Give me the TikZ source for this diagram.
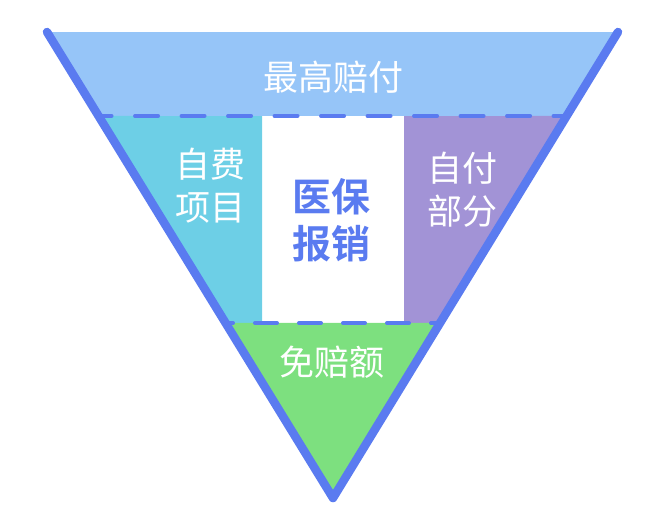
\documentclass[tikz,border=0pt]{standalone}
\usepackage{fontspec}
\newfontfamily\cjk[BoldFont={Noto Sans CJK SC Bold}]{Noto Sans CJK SC}
\usetikzlibrary{calc}
\definecolor{edgeblue}{HTML}{5A7BF0}
\definecolor{topblue}{HTML}{96C5F8}
\definecolor{cyanfill}{HTML}{6DCFE6}
\definecolor{purplefill}{HTML}{A293D6}
\definecolor{greenfill}{HTML}{7DE07F}
\tikzset{
  lbl/.style={text=white, align=center, inner sep=0pt, font=\cjk\fontsize{35}{43}\selectfont},
  mainlbl/.style={text=edgeblue, align=center, inner sep=0pt, font=\cjk\bfseries\fontsize{39}{47}\selectfont},
  sep/.style={draw=edgeblue, line width=4pt, line cap=round},
  side/.style={draw=edgeblue, line width=8.5pt, line cap=round, line join=round}
}
\begin{document}
\begin{tikzpicture}[x=1pt,y=-1pt]
\useasboundingbox (0,0) rectangle (666,522);
\coordinate (L) at (47,32);
\coordinate (R) at (618,32);
\coordinate (B) at (333,498);
\coordinate (L1) at ($(L)!{84/466}!(B)$);
\coordinate (R1) at ($(R)!{84/466}!(B)$);
\coordinate (L2) at ($(L)!{291/466}!(B)$);
\coordinate (R2) at ($(R)!{291/466}!(B)$);
\coordinate (C1) at (262,116);
\coordinate (C2) at (262,323);
\coordinate (D1) at (404,116);
\coordinate (D2) at (404,323);
% fills
\fill[topblue] (L) -- (R) -- (R1) -- (L1) -- cycle;
\fill[cyanfill] (L1) -- (C1) -- (C2) -- (L2) -- cycle;
\fill[purplefill] (D1) -- (R1) -- (R2) -- (D2) -- cycle;
\fill[greenfill] (L2) -- (R2) -- (B) -- cycle;
% dashed separators
\draw[sep, dash pattern=on 23pt off 23.5pt, dash phase=10pt] (L1) -- (R1);
\draw[sep, dash pattern=on 22pt off 22pt, dash phase=14.6pt] (L2) -- (R2);
% sides
\draw[side] (L) -- (B) -- (R);
% labels
\node[lbl] (top) at (333,77) {最高赔付};
\node[lbl] (zf) at (210,186) {自费\\项目};
\node[lbl] (zfb) at (462,190) {自付\\部分};
\node[mainlbl] (yb) at (331,220) {医保\\报销};
\node[lbl] (mpe) at (332,362) {免赔额};
\end{tikzpicture}
\end{document}
